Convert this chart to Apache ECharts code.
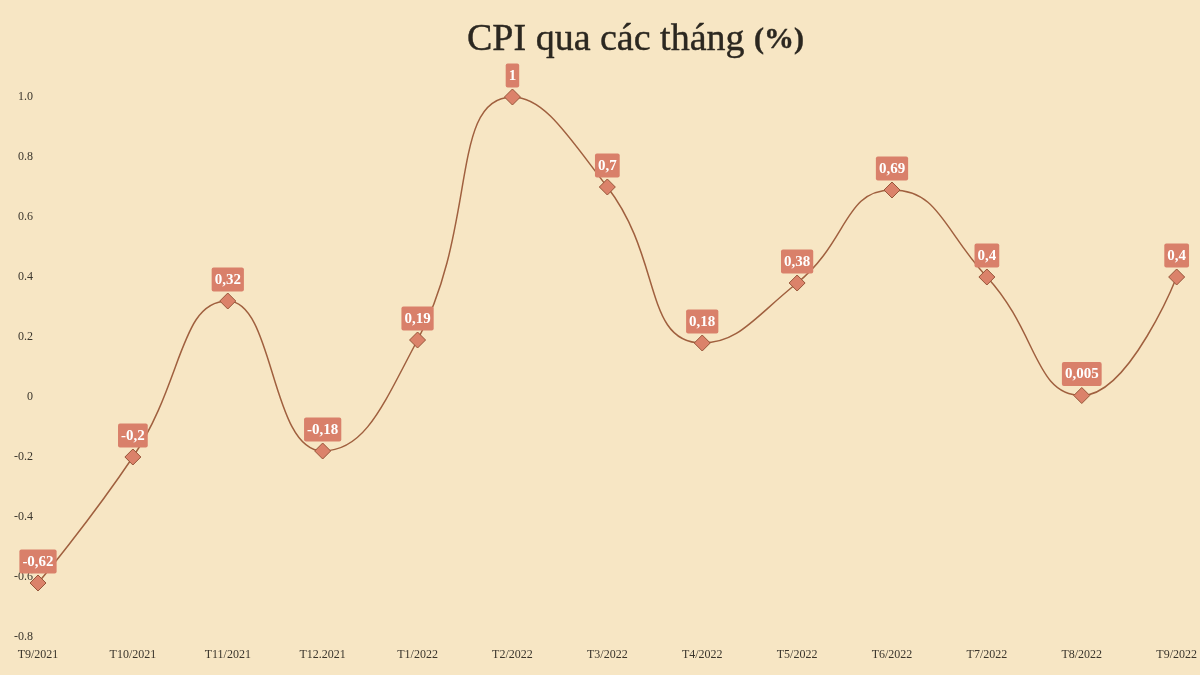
<!DOCTYPE html>
<html lang="vi">
<head>
    <meta charset="UTF-8">
    <script type="text/javascript" src="https://cdn.jsdelivr.net/npm/echarts@6/dist/echarts.min.js"></script>
    <style>
        html, body { margin: 0; padding: 0; background: #f7e6c4; }
        #cpiChart { width: 1200px; height: 675px; }
    </style>
</head>
<body>
    <div id="cpiChart"></div>
</body>
<script>
    // tháng
    var months = ["T9/2021", "T10/2021", "T11/2021", "T12.2021", "T1/2022", "T2/2022", "T3/2022",
        "T4/2022", "T5/2022", "T6/2022", "T7/2022", "T8/2022", "T9/2022"];
    // CPI (%)
    var cpiValues = [-0.62, -0.2, 0.32, -0.18, 0.19, 1, 0.7, 0.18, 0.38, 0.69, 0.4, 0.005, 0.4];
    // nhãn trục tung
    var yTickLabels = {"1": "1.0", "0.8": "0.8", "0.6": "0.6", "0.4": "0.4", "0.2": "0.2", "0": "0",
        "-0.2": "-0.2", "-0.4": "-0.4", "-0.6": "-0.6", "-0.8": "-0.8"};

    var cpiChart = echarts.init(document.getElementById("cpiChart"));

    var option = {
        backgroundColor: "#f7e6c4",
        title: {
            text: "CPI qua các tháng {b|(%)}",
            left: 462,
            top: 16,
            textStyle: {
                fontFamily: "Liberation Serif",
                fontSize: 38,
                fontWeight: "normal",
                color: "#2b2720",
                textBorderColor: "#2b2720",
                textBorderWidth: 0.4,
                rich: {
                    b: {fontFamily: "Liberation Serif", fontSize: 30, fontWeight: "bold", color: "#2b2720"}
                }
            }
        },
        grid: {left: 38, right: 23, top: 97, bottom: 38, containLabel: false},
        xAxis: {
            type: "category",
            data: months,
            boundaryGap: false,
            axisLine: {show: false},
            axisTick: {show: false},
            axisLabel: {
                fontFamily: "Liberation Serif",
                fontSize: 12,
                color: "#3a352c",
                margin: 12,
                interval: 0
            },
            splitLine: {show: false}
        },
        yAxis: {
            type: "value",
            min: -0.8,
            max: 1,
            interval: 0.2,
            axisLine: {show: false},
            axisTick: {show: false},
            splitLine: {show: false},
            axisLabel: {
                fontFamily: "Liberation Serif",
                fontSize: 12,
                color: "#3a352c",
                margin: 5,
                formatter: function (v) {
                    var key = String(Math.round(v * 10) / 10);
                    return yTickLabels[key] !== undefined ? yTickLabels[key] : key;
                }
            }
        },
        series: [{
            type: "line",
            data: cpiValues,
            smooth: 0.5,
            symbol: "diamond",
            symbolSize: 16,
            lineStyle: {color: "#a0603f", width: 1.5},
            itemStyle: {color: "#db826a", borderColor: "#98563a", borderWidth: 1},
            label: {
                show: true,
                position: "top",
                distance: 1,
                formatter: function (p) {
                    return String(p.value).replace(".", ",");
                },
                fontFamily: "Liberation Serif",
                fontSize: 15,
                fontWeight: "bold",
                color: "#ffffff",
                backgroundColor: "#d9806a",
                borderRadius: 2,
                padding: [5, 3, 4, 3]
            }
        }]
    };
    cpiChart.setOption(option);
</script>
</html>
